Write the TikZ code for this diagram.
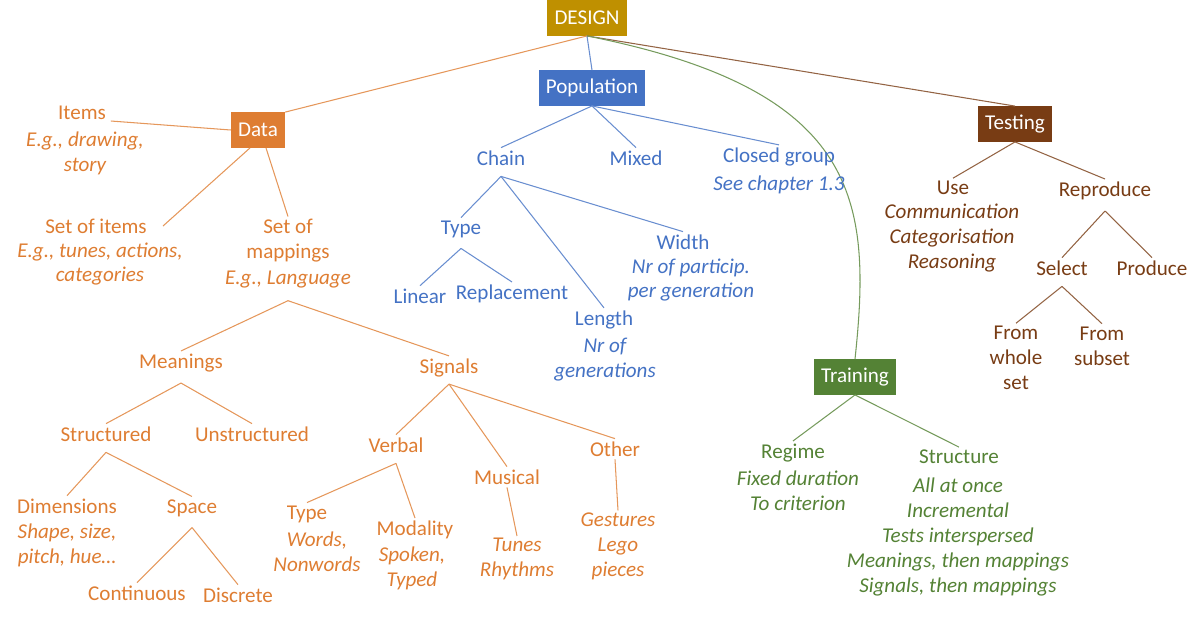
\documentclass[tikz,border=0pt]{standalone}
\usepackage{fontspec}
\setmainfont{Carlito}
\definecolor{cdesign}{RGB}{191,144,0}
\definecolor{cdata}{RGB}{222,125,50}
\definecolor{cpop}{RGB}{68,114,196}
\definecolor{ctest}{RGB}{120,60,20}
\definecolor{ctrain}{RGB}{84,130,53}
\tikzset{
  box/.style={fill=#1,text=white,inner sep=4pt,minimum height=20pt},
  lab/.style={text=#1,align=center,inner sep=1.5pt},
  sub/.style={text=#1,align=center,font=\fontsize{12}{14.2}\selectfont\itshape,inner sep=1pt},
  br/.style={draw=#1,line width=0.6pt}
}
\begin{document}
\begin{tikzpicture}[x=0.02cm,y=-0.02cm,font=\fontsize{12}{14.2}\selectfont]
\useasboundingbox (0,0) rectangle (1200,620);
% top level
\node[box=cdesign] (design) at (587,18) {DESIGN};
\node[box=cdata] (data) at (258,130) {Data};
\node[box=cpop] (pop) at (592,88) {Population};
\node[box=ctest] (test) at (1015,124) {Testing};
\node[box=ctrain] (train) at (855,377) {Training};
\draw[br=cdata!80] (design.south) -- (data.north east);
\draw[br=cpop!80] (design.south) -- (pop.north);
\draw[br=ctest!80] (design.south) -- (test.north);
\draw[br=ctrain!80] (design.south) .. controls (860,90) and (872,200) .. (train.north);
% data
\node[lab=cdata] (items) at (82,113) {Items};
\node[sub=cdata] (itemsx) at (85,153) {E.g., drawing,\\story};
\node[lab=cdata] (set) at (96,226) {Set of items};
\node[sub=cdata] (setx) at (100,264) {E.g., tunes, actions,\\categories};
\node[lab=cdata] (map) at (288,241) {Set of\\mappings};
\node[sub=cdata] (mapx) at (288,280) {E.g., Language};
\node[lab=cdata] (mean) at (181,363) {Meanings};
\node[lab=cdata] (sig) at (449,368) {Signals};
\node[lab=cdata] (struc) at (106,434) {Structured};
\node[lab=cdata] (unstruc) at (252,434) {Unstructured};
\node[lab=cdata] (dim) at (67,506) {Dimensions};
\node[sub=cdata] (dimx) at (67,545) {Shape, size,\\pitch, hue\dots};
\node[lab=cdata] (space) at (192,508) {Space};
\node[lab=cdata] (cont) at (137,593) {Continuous};
\node[lab=cdata] (disc) at (238,595) {Discrete};
\node[lab=cdata] (verbal) at (396,445) {Verbal};
\node[lab=cdata] (music) at (507,477) {Musical};
\node[lab=cdata] (other) at (615,449) {Other};
\node[lab=cdata] (vtype) at (307,514) {Type};
\node[sub=cdata] (vtypex) at (317,552) {Words,\\Nonwords};
\node[lab=cdata] (modal) at (415,530) {Modality};
\node[sub=cdata] (modalx) at (412,568) {Spoken,\\Typed};
\node[sub=cdata] (tunes) at (517,559) {Tunes\\Rhythms};
\node[sub=cdata] (gest) at (618,546) {Gestures\\Lego\\pieces};
\draw[br=cdata!80] (items.east) ++(2,8) -- (data.west);
\draw[br=cdata!80] (data.south) ++(-8,0) -- (163,226);
\draw[br=cdata!80] (data.south) ++(8,0) -- (map.north);
\draw[br=cdata!80] (mapx.south) ++(0,10) coordinate (mj) -- (mean.north);
\draw[br=cdata!80] (mj) -- (sig.north);
\draw[br=cdata!80] (mean.south) ++(0,8) coordinate (mn) -- (struc.north);
\draw[br=cdata!80] (mn) -- (unstruc.north);
\draw[br=cdata!80] (struc.south) ++(0,8) coordinate (sj) -- (dim.north);
\draw[br=cdata!80] (sj) -- (space.north);
\draw[br=cdata!80] (space.south) ++(0,8) coordinate (sp) -- (cont.north);
\draw[br=cdata!80] (sp) -- (disc.north);
\draw[br=cdata!80] (sig.south) ++(0,4) coordinate (sg) -- (verbal.north);
\draw[br=cdata!80] (sg) -- (music.north);
\draw[br=cdata!80] (sg) -- (other.north);
\draw[br=cdata!80] (verbal.south) ++(0,8) coordinate (vb) -- (vtype.north);
\draw[br=cdata!80] (vb) -- (modal.north);
\draw[br=cdata!80] (music.south) -- (tunes.north);
\draw[br=cdata!80] (other.south) -- (gest.north);
% population
\node[lab=cpop] (chain) at (501,158) {Chain};
\node[lab=cpop] (mixed) at (636,158) {Mixed};
\node[lab=cpop] (closed) at (779,157) {Closed group};
\node[sub=cpop] (closedx) at (779,185) {See chapter 1.3};
\node[lab=cpop] (ptype) at (461,229) {Type};
\node[lab=cpop] (linear) at (420,296) {Linear};
\node[lab=cpop] (repl) at (512,294) {Replacement};
\node[lab=cpop] (len) at (604,320) {Length};
\node[sub=cpop] (lenx) at (605,360) {Nr of\\generations};
\node[lab=cpop] (width) at (683,242) {Width};
\node[sub=cpop] (widthx) at (691,280) {Nr of particip.\\per generation};
\draw[br=cpop!80] (pop.south) -- (chain.north);
\draw[br=cpop!80] (pop.south) -- (mixed.north);
\draw[br=cpop!80] (pop.south) -- (closed.north);
\draw[br=cpop!80] (chain.south) ++(0,8) coordinate (ch) -- (ptype.north);
\draw[br=cpop!80] (ch) -- (len.north);
\draw[br=cpop!80] (ch) -- (width.north);
\draw[br=cpop!80] (ptype.south) ++(0,8) coordinate (pt) -- (linear.north);
\draw[br=cpop!80] (pt) -- (repl.north);
% testing
\node[lab=ctest] (use) at (953,188) {Use};
\node[sub=ctest] (usex) at (952,238) {Communication\\Categorisation\\Reasoning};
\node[lab=ctest] (repro) at (1105,191) {Reproduce};
\node[lab=ctest] (select) at (1062,268) {Select};
\node[lab=ctest] (produce) at (1152,268) {Produce};
\node[lab=ctest] (whole) at (1016,358) {From\\whole\\set};
\node[lab=ctest] (subset) at (1102,346) {From\\subset};
\draw[br=ctest!80] (test.south) -- (use.north);
\draw[br=ctest!80] (test.south) -- (repro.north);
\draw[br=ctest!80] (repro.south) ++(0,8) coordinate (rp) -- (select.north);
\draw[br=ctest!80] (rp) -- (produce.north);
\draw[br=ctest!80] (select.south) ++(0,8) coordinate (sl) -- (whole.north);
\draw[br=ctest!80] (sl) -- (subset.north);
% training
\node[lab=ctrain] (regime) at (793,453) {Regime};
\node[sub=ctrain] (regimex) at (798,491) {Fixed duration\\To criterion};
\node[lab=ctrain] (structure) at (959,457) {Structure};
\node[sub=ctrain] (structx) at (958,537) {All at once\\Incremental\\Tests interspersed\\Meanings, then mappings\\Signals, then mappings};
\draw[br=ctrain!80] (train.south) -- (regime.north);
\draw[br=ctrain!80] (train.south) -- (structure.north);
\end{tikzpicture}
\end{document}
